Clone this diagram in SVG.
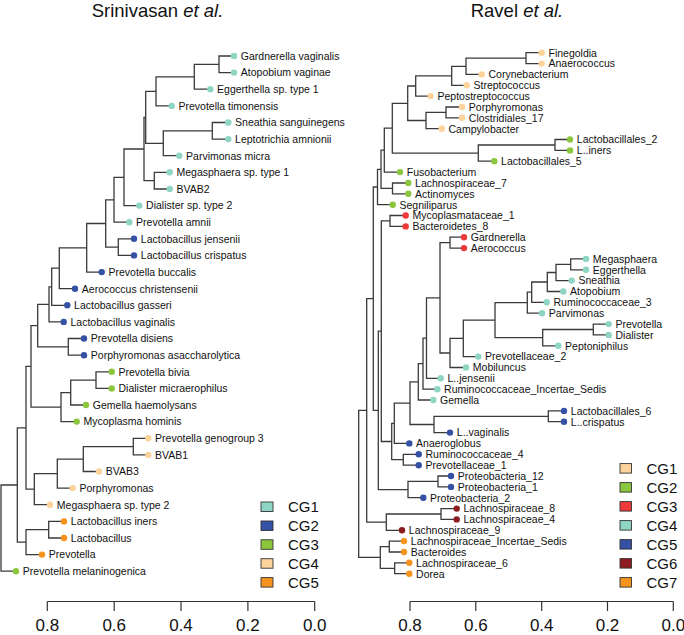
<svg xmlns="http://www.w3.org/2000/svg" width="684" height="635" viewBox="0 0 684 635">
<style>
.ln{fill:none;stroke:#3a3a3a;stroke-width:1.3}
.ax{fill:none;stroke:#333;stroke-width:1.2}
.lb{font-family:"Liberation Sans",Arial,sans-serif;font-size:10.5px;fill:#111}
.tt{font-family:"Liberation Sans",Arial,sans-serif;font-size:18.5px;fill:#111}
.al{font-family:"Liberation Sans",Arial,sans-serif;font-size:17px;fill:#111;text-anchor:middle}
.lg{font-family:"Liberation Sans",Arial,sans-serif;font-size:15px;fill:#111}
.bx{stroke:#333;stroke-width:0.9}
.teal{fill:#8ed5c4}.blue{fill:#3451a3}.green{fill:#8cc63e}.peach{fill:#fdd39c}.orange{fill:#f6921e}.red{fill:#ee3a3a}.dred{fill:#8c1c1f}
</style>
<rect width="684" height="635" fill="#fff"/>
<text class="tt" x="91.7" y="17">Srinivasan <tspan font-style="italic">et al.</tspan></text>
<text class="tt" x="470.7" y="17">Ravel <tspan font-style="italic">et al.</tspan></text>
<g id="connectors">
<path class="ln" d="M234 56 H219 V72.6 H234 M219 64.3 H194.3 V89.2 H210.3 M194.3 76.8 H156 V105.9 H171.7 M228.3 122.5 H212.3 V139.1 H228.3 M212.3 130.8 H163.3 V155.7 H179.3 M156 91.3 H145.7 V143.3 H163.3 M169.7 172.3 H154.3 V189 H169.7 M145.7 117.3 H144 V180.7 H154.3 M144 149 H124 V205.6 H139.3 M124 177.3 H114 V222.2 H129.3 M134 238.8 H118.3 V255.4 H134 M114 199.8 H105.7 V247.1 H118.3 M105.7 223.5 H86.7 V272.1 H101.7 M86.7 247.8 H59.3 V288.7 H75 M59.3 268.2 H51.7 V305.3 H67.3 M51.7 286.8 H49 V321.9 H63.7 M84 338.5 H68.3 V355.2 H84 M49 304.4 H37.7 V346.8 H68.3 M111.7 371.8 H96 V388.4 H111.7 M96 380.1 H70.7 V405 H86 M70.7 392.6 H61 V421.6 H76.7 M37.7 325.6 H31 V407.1 H61 M148.3 438.3 H133.3 V454.9 H148.3 M133.3 446.6 H83.3 V471.5 H99 M83.3 459.1 H57.3 V488.1 H72.7 M57.3 473.6 H34.3 V504.7 H50 M31 366.4 H26 V489.2 H34.3 M64 521.4 H48.7 V538 H64 M48.7 529.7 H26 V554.6 H42 M26 427.8 H17.3 V542.2 H26 M17.3 485 H1 V571.2 H16"/>
<path class="ln" d="M541.7 52.7 H526 V63.6 H541.7 M526 58.1 H466 V74.4 H481.7 M466 66.3 H451.7 V85.3 H466.7 M451.7 75.8 H415.7 V96.1 H430.7 M462 107 H446 V117.8 H462 M446 112.4 H426 V128.7 H441.7 M415.7 86 H407.7 V120.5 H426 M570 139.5 H555 V150.4 H570 M555 145 H478.3 V161.2 H494.3 M407.7 103.3 H392.3 V153.1 H478.3 M392.3 128.2 H384.3 V172.1 H400 M408.3 183 H392.5 V193.8 H408.3 M384.3 150.2 H381 V188.4 H392.5 M381 169.3 H377.5 V204.7 H392.7 M405.7 215.5 H390 V226.4 H405.7 M464 237.2 H450 V248.1 H464 M586 258.9 H570.7 V269.8 H586 M570.7 264.4 H556 V280.6 H571.7 M556 272.5 H547.3 V291.5 H563.3 M547.3 282 H531.7 V302.3 H546.7 M531.7 292.2 H527.3 V313.2 H542 M608.7 324.1 H593.3 V334.9 H608.7 M593.3 329.5 H542.7 V345.8 H558.3 M527.3 302.7 H495 V337.6 H542.7 M495 320.2 H463.3 V356.6 H478.3 M463.3 338.4 H450 V367.5 H466 M450 242.6 H440 V353 H450 M440 297.8 H426.5 V378.3 H440.7 M426.5 338.1 H423 V389.2 H437.3 M423 363.6 H418.3 V400 H433.3 M564 410.9 H548.3 V421.7 H564 M548.3 416.3 H434 V432.6 H450 M418.3 381.8 H410 V424.5 H434 M410 403.1 H394.3 V443.4 H409.3 M418.7 454.3 H403.3 V465.2 H418.7 M394.3 423.3 H391.7 V459.7 H403.3 M390 220.9 H381.3 V441.5 H391.7 M451 476 H438 V486.9 H451 M438 481.4 H408 V497.7 H423.3 M381.3 331.2 H378.3 V489.6 H408 M377.5 187 H373.3 V410.4 H378.3 M456.7 508.6 H441 V519.4 H456.7 M441 514 H386.3 V530.3 H402 M373.3 298.7 H366.7 V522.1 H386.3 M404 541.1 H389.3 V552 H404 M409.3 562.8 H394.7 V573.7 H409.3 M389.3 546.6 H380.3 V568.3 H394.7 M366.7 410.4 H358.7 V557.4 H380.3"/>
</g>
<g id="left-leaves">
<g id="s1"><circle class="teal" cx="234" cy="56" r="3.2"/><text class="lb" x="240.8" y="59.8">Gardnerella vaginalis</text></g>
<g id="s2"><circle class="teal" cx="234" cy="72.6" r="3.2"/><text class="lb" x="240.8" y="76.4">Atopobium vaginae</text></g>
<g id="s3"><circle class="teal" cx="210.3" cy="89.2" r="3.2"/><text class="lb" x="217.1" y="93">Eggerthella sp. type 1</text></g>
<g id="s4"><circle class="teal" cx="171.7" cy="105.9" r="3.2"/><text class="lb" x="178.5" y="109.7">Prevotella timonensis</text></g>
<g id="s5"><circle class="teal" cx="228.3" cy="122.5" r="3.2"/><text class="lb" x="235.1" y="126.3">Sneathia sanguinegens</text></g>
<g id="s6"><circle class="teal" cx="228.3" cy="139.1" r="3.2"/><text class="lb" x="235.1" y="142.9">Leptotrichia amnionii</text></g>
<g id="s7"><circle class="teal" cx="179.3" cy="155.7" r="3.2"/><text class="lb" x="186.1" y="159.5">Parvimonas micra</text></g>
<g id="s8"><circle class="teal" cx="169.7" cy="172.3" r="3.2"/><text class="lb" x="176.5" y="176.1">Megasphaera sp. type 1</text></g>
<g id="s9"><circle class="teal" cx="169.7" cy="189" r="3.2"/><text class="lb" x="176.5" y="192.8">BVAB2</text></g>
<g id="s10"><circle class="teal" cx="139.3" cy="205.6" r="3.2"/><text class="lb" x="146.1" y="209.4">Dialister sp. type 2</text></g>
<g id="s11"><circle class="teal" cx="129.3" cy="222.2" r="3.2"/><text class="lb" x="136.1" y="226">Prevotella amnii</text></g>
<g id="s12"><circle class="blue" cx="134" cy="238.8" r="3.2"/><text class="lb" x="140.8" y="242.6">Lactobacillus jensenii</text></g>
<g id="s13"><circle class="blue" cx="134" cy="255.4" r="3.2"/><text class="lb" x="140.8" y="259.2">Lactobacillus crispatus</text></g>
<g id="s14"><circle class="blue" cx="101.7" cy="272.1" r="3.2"/><text class="lb" x="108.5" y="275.9">Prevotella buccalis</text></g>
<g id="s15"><circle class="blue" cx="75" cy="288.7" r="3.2"/><text class="lb" x="81.8" y="292.5">Aerococcus christensenii</text></g>
<g id="s16"><circle class="blue" cx="67.3" cy="305.3" r="3.2"/><text class="lb" x="74.1" y="309.1">Lactobacillus gasseri</text></g>
<g id="s17"><circle class="blue" cx="63.7" cy="321.9" r="3.2"/><text class="lb" x="70.5" y="325.7">Lactobacillus vaginalis</text></g>
<g id="s18"><circle class="blue" cx="84" cy="338.5" r="3.2"/><text class="lb" x="90.8" y="342.3">Prevotella disiens</text></g>
<g id="s19"><circle class="blue" cx="84" cy="355.2" r="3.2"/><text class="lb" x="90.8" y="359">Porphyromonas asaccharolytica</text></g>
<g id="s20"><circle class="green" cx="111.7" cy="371.8" r="3.2"/><text class="lb" x="118.5" y="375.6">Prevotella bivia</text></g>
<g id="s21"><circle class="green" cx="111.7" cy="388.4" r="3.2"/><text class="lb" x="118.5" y="392.2">Dialister micraerophilus</text></g>
<g id="s22"><circle class="green" cx="86" cy="405" r="3.2"/><text class="lb" x="92.8" y="408.8">Gemella haemolysans</text></g>
<g id="s23"><circle class="green" cx="76.7" cy="421.6" r="3.2"/><text class="lb" x="83.5" y="425.4">Mycoplasma hominis</text></g>
<g id="s24"><circle class="peach" cx="148.3" cy="438.3" r="3.2"/><text class="lb" x="155.1" y="442.1">Prevotella genogroup 3</text></g>
<g id="s25"><circle class="peach" cx="148.3" cy="454.9" r="3.2"/><text class="lb" x="155.1" y="458.7">BVAB1</text></g>
<g id="s26"><circle class="peach" cx="99" cy="471.5" r="3.2"/><text class="lb" x="105.8" y="475.3">BVAB3</text></g>
<g id="s27"><circle class="peach" cx="72.7" cy="488.1" r="3.2"/><text class="lb" x="79.5" y="491.9">Porphyromonas</text></g>
<g id="s28"><circle class="peach" cx="50" cy="504.7" r="3.2"/><text class="lb" x="56.8" y="508.5">Megasphaera sp. type 2</text></g>
<g id="s29"><circle class="orange" cx="64" cy="521.4" r="3.2"/><text class="lb" x="70.8" y="525.2">Lactobacillus iners</text></g>
<g id="s30"><circle class="orange" cx="64" cy="538" r="3.2"/><text class="lb" x="70.8" y="541.8">Lactobacillus</text></g>
<g id="s31"><circle class="orange" cx="42" cy="554.6" r="3.2"/><text class="lb" x="48.8" y="558.4">Prevotella</text></g>
<g id="s32"><circle class="green" cx="16" cy="571.2" r="3.2"/><text class="lb" x="22.8" y="575">Prevotella melaninogenica</text></g>
</g>
<g id="right-leaves">
<g id="r_1"><circle class="peach" cx="541.7" cy="52.7" r="3.2"/><text class="lb" x="548.5" y="56.5">Finegoldia</text></g>
<g id="r_2"><circle class="peach" cx="541.7" cy="63.6" r="3.2"/><text class="lb" x="548.5" y="67.4">Anaerococcus</text></g>
<g id="r_3"><circle class="peach" cx="481.7" cy="74.4" r="3.2"/><text class="lb" x="488.5" y="78.2">Corynebacterium</text></g>
<g id="r_4"><circle class="peach" cx="466.7" cy="85.3" r="3.2"/><text class="lb" x="473.5" y="89.1">Streptococcus</text></g>
<g id="r_5"><circle class="peach" cx="430.7" cy="96.1" r="3.2"/><text class="lb" x="437.5" y="99.9">Peptostreptococcus</text></g>
<g id="r_6"><circle class="peach" cx="462" cy="107" r="3.2"/><text class="lb" x="468.8" y="110.8">Porphyromonas</text></g>
<g id="r_7"><circle class="peach" cx="462" cy="117.8" r="3.2"/><text class="lb" x="468.8" y="121.6">Clostridiales_17</text></g>
<g id="r_8"><circle class="peach" cx="441.7" cy="128.7" r="3.2"/><text class="lb" x="448.5" y="132.5">Campylobacter</text></g>
<g id="r_9"><circle class="green" cx="570" cy="139.5" r="3.2"/><text class="lb" x="576.8" y="143.3">Lactobacillales_2</text></g>
<g id="r_10"><circle class="green" cx="570" cy="150.4" r="3.2"/><text class="lb" x="576.8" y="154.2">L..iners</text></g>
<g id="r_11"><circle class="green" cx="494.3" cy="161.2" r="3.2"/><text class="lb" x="501.1" y="165">Lactobacillales_5</text></g>
<g id="r_12"><circle class="green" cx="400" cy="172.1" r="3.2"/><text class="lb" x="406.8" y="175.9">Fusobacterium</text></g>
<g id="r_13"><circle class="green" cx="408.3" cy="183" r="3.2"/><text class="lb" x="415.1" y="186.8">Lachnospiraceae_7</text></g>
<g id="r_14"><circle class="green" cx="408.3" cy="193.8" r="3.2"/><text class="lb" x="415.1" y="197.6">Actinomyces</text></g>
<g id="r_15"><circle class="green" cx="392.7" cy="204.7" r="3.2"/><text class="lb" x="399.5" y="208.5">Segniliparus</text></g>
<g id="r_16"><circle class="red" cx="405.7" cy="215.5" r="3.2"/><text class="lb" x="412.5" y="219.3">Mycoplasmataceae_1</text></g>
<g id="r_17"><circle class="red" cx="405.7" cy="226.4" r="3.2"/><text class="lb" x="412.5" y="230.2">Bacteroidetes_8</text></g>
<g id="r_18"><circle class="red" cx="464" cy="237.2" r="3.2"/><text class="lb" x="470.8" y="241">Gardnerella</text></g>
<g id="r_19"><circle class="red" cx="464" cy="248.1" r="3.2"/><text class="lb" x="470.8" y="251.9">Aerococcus</text></g>
<g id="r_20"><circle class="teal" cx="586" cy="258.9" r="3.2"/><text class="lb" x="592.8" y="262.7">Megasphaera</text></g>
<g id="r_21"><circle class="teal" cx="586" cy="269.8" r="3.2"/><text class="lb" x="592.8" y="273.6">Eggerthella</text></g>
<g id="r_22"><circle class="teal" cx="571.7" cy="280.6" r="3.2"/><text class="lb" x="578.5" y="284.4">Sneathia</text></g>
<g id="r_23"><circle class="teal" cx="563.3" cy="291.5" r="3.2"/><text class="lb" x="570.1" y="295.3">Atopobium</text></g>
<g id="r_24"><circle class="teal" cx="546.7" cy="302.3" r="3.2"/><text class="lb" x="553.5" y="306.1">Ruminococcaceae_3</text></g>
<g id="r_25"><circle class="teal" cx="542" cy="313.2" r="3.2"/><text class="lb" x="548.8" y="317">Parvimonas</text></g>
<g id="r_26"><circle class="teal" cx="608.7" cy="324.1" r="3.2"/><text class="lb" x="615.5" y="327.9">Prevotella</text></g>
<g id="r_27"><circle class="teal" cx="608.7" cy="334.9" r="3.2"/><text class="lb" x="615.5" y="338.7">Dialister</text></g>
<g id="r_28"><circle class="teal" cx="558.3" cy="345.8" r="3.2"/><text class="lb" x="565.1" y="349.6">Peptoniphilus</text></g>
<g id="r_29"><circle class="teal" cx="478.3" cy="356.6" r="3.2"/><text class="lb" x="485.1" y="360.4">Prevotellaceae_2</text></g>
<g id="r_30"><circle class="teal" cx="466" cy="367.5" r="3.2"/><text class="lb" x="472.8" y="371.3">Mobiluncus</text></g>
<g id="r_31"><circle class="teal" cx="440.7" cy="378.3" r="3.2"/><text class="lb" x="447.5" y="382.1">L..jensenii</text></g>
<g id="r_32"><circle class="teal" cx="437.3" cy="389.2" r="3.2"/><text class="lb" x="444.1" y="393">Ruminococcaceae_Incertae_Sedis</text></g>
<g id="r_33"><circle class="teal" cx="433.3" cy="400" r="3.2"/><text class="lb" x="440.1" y="403.8">Gemella</text></g>
<g id="r_34"><circle class="blue" cx="564" cy="410.9" r="3.2"/><text class="lb" x="570.8" y="414.7">Lactobacillales_6</text></g>
<g id="r_35"><circle class="blue" cx="564" cy="421.7" r="3.2"/><text class="lb" x="570.8" y="425.5">L..crispatus</text></g>
<g id="r_36"><circle class="blue" cx="450" cy="432.6" r="3.2"/><text class="lb" x="456.8" y="436.4">L..vaginalis</text></g>
<g id="r_37"><circle class="blue" cx="409.3" cy="443.4" r="3.2"/><text class="lb" x="416.1" y="447.2">Anaeroglobus</text></g>
<g id="r_38"><circle class="blue" cx="418.7" cy="454.3" r="3.2"/><text class="lb" x="425.5" y="458.1">Ruminococcaceae_4</text></g>
<g id="r_39"><circle class="blue" cx="418.7" cy="465.2" r="3.2"/><text class="lb" x="425.5" y="469">Prevotellaceae_1</text></g>
<g id="r_40"><circle class="blue" cx="451" cy="476" r="3.2"/><text class="lb" x="457.8" y="479.8">Proteobacteria_12</text></g>
<g id="r_41"><circle class="blue" cx="451" cy="486.9" r="3.2"/><text class="lb" x="457.8" y="490.7">Proteobacteria_1</text></g>
<g id="r_42"><circle class="blue" cx="423.3" cy="497.7" r="3.2"/><text class="lb" x="430.1" y="501.5">Proteobacteria_2</text></g>
<g id="r_43"><circle class="dred" cx="456.7" cy="508.6" r="3.2"/><text class="lb" x="463.5" y="512.4">Lachnospiraceae_8</text></g>
<g id="r_44"><circle class="dred" cx="456.7" cy="519.4" r="3.2"/><text class="lb" x="463.5" y="523.2">Lachnospiraceae_4</text></g>
<g id="r_45"><circle class="dred" cx="402" cy="530.3" r="3.2"/><text class="lb" x="408.8" y="534.1">Lachnospiraceae_9</text></g>
<g id="r_46"><circle class="orange" cx="404" cy="541.1" r="3.2"/><text class="lb" x="410.8" y="544.9">Lachnospiraceae_Incertae_Sedis</text></g>
<g id="r_47"><circle class="orange" cx="404" cy="552" r="3.2"/><text class="lb" x="410.8" y="555.8">Bacteroides</text></g>
<g id="r_48"><circle class="orange" cx="409.3" cy="562.8" r="3.2"/><text class="lb" x="416.1" y="566.6">Lachnospiraceae_6</text></g>
<g id="r_49"><circle class="orange" cx="409.3" cy="573.7" r="3.2"/><text class="lb" x="416.1" y="577.5">Dorea</text></g>
</g>
<g id="legend-left">
<rect class="bx teal" x="261" y="502" width="12" height="9.5"/><text class="lg" x="288" y="512">CG1</text>
<rect class="bx blue" x="261" y="521" width="12" height="9.5"/><text class="lg" x="288" y="531">CG2</text>
<rect class="bx green" x="261" y="539.8" width="12" height="9.5"/><text class="lg" x="288" y="549.8">CG3</text>
<rect class="bx peach" x="261" y="558.7" width="12" height="9.5"/><text class="lg" x="288" y="568.7">CG4</text>
<rect class="bx orange" x="261" y="577.6" width="12" height="9.5"/><text class="lg" x="288" y="587.6">CG5</text>
</g>
<g id="legend-right">
<rect class="bx peach" x="620" y="463.6" width="11.5" height="9.5"/><text class="lg" x="646.5" y="473.6">CG1</text>
<rect class="bx green" x="620" y="482.6" width="11.5" height="9.5"/><text class="lg" x="646.5" y="492.6">CG2</text>
<rect class="bx red" x="620" y="501.6" width="11.5" height="9.5"/><text class="lg" x="646.5" y="511.6">CG3</text>
<rect class="bx teal" x="620" y="520.6" width="11.5" height="9.5"/><text class="lg" x="646.5" y="530.6">CG4</text>
<rect class="bx blue" x="620" y="539.6" width="11.5" height="9.5"/><text class="lg" x="646.5" y="549.6">CG5</text>
<rect class="bx dred" x="620" y="558.6" width="11.5" height="9.5"/><text class="lg" x="646.5" y="568.6">CG6</text>
<rect class="bx orange" x="620" y="577.6" width="11.5" height="9.5"/><text class="lg" x="646.5" y="587.6">CG7</text>
</g>
<g id="axis-left">
<path class="ax" d="M47.3 601.5 H314.7 M47.3 601.5 V611 M114.2 601.5 V611 M181 601.5 V611 M247.9 601.5 V611 M314.7 601.5 V611"/>
<text class="al" x="47.3" y="631">0.8</text><text class="al" x="114.2" y="631">0.6</text><text class="al" x="181" y="631">0.4</text><text class="al" x="247.9" y="631">0.2</text><text class="al" x="314.7" y="631">0.0</text>
</g>
<g id="axis-right">
<path class="ax" d="M410 601.5 H673.3 M410 601.5 V611 M475.8 601.5 V611 M541.7 601.5 V611 M607.5 601.5 V611 M673.3 601.5 V611"/>
<text class="al" x="410" y="631">0.8</text><text class="al" x="475.8" y="631">0.6</text><text class="al" x="541.7" y="631">0.4</text><text class="al" x="607.5" y="631">0.2</text><text class="al" x="673.3" y="631">0.0</text>
</g>
</svg>
